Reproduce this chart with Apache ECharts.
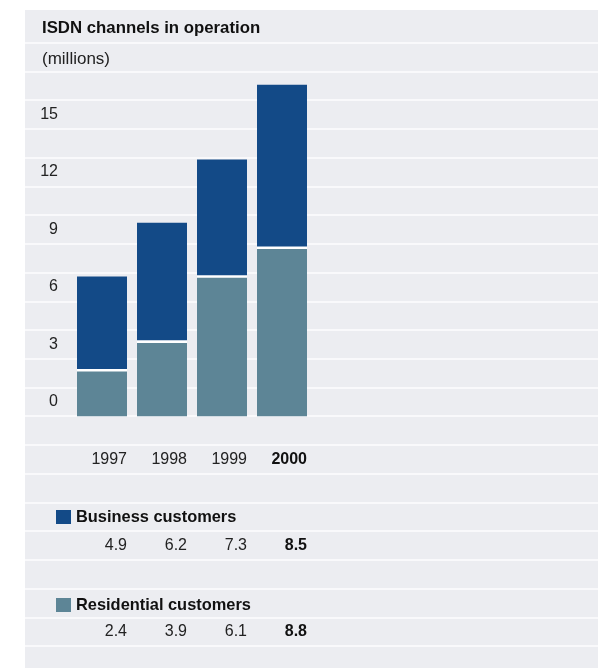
<!DOCTYPE html>
<html>
<head>
<meta charset="utf-8">
<script src="https://cdn.jsdelivr.net/npm/echarts@6/dist/echarts.min.js"></script>
<style>
html,body{margin:0;padding:0;background:#fff;}
#c{width:598px;height:668px;}
</style>
</head>
<body>
<div id="c"></div>
<script>
// ---- data ----
const years = ['1997', '1998', '1999', '2000'];
const barResidential = [2.4, 3.9, 7.3, 8.8];
const barBusiness = [4.9, 6.2, 6.1, 8.5];
// values printed in the table below the chart
const tableBusiness = [4.9, 6.2, 7.3, 8.5];
const tableResidential = [2.4, 3.9, 6.1, 8.8];
const yTicks = [0, 3, 6, 9, 12, 15];
const titleText = 'ISDN channels in operation';
const unitText = '(millions)';
const seriesNames = ['Business customers', 'Residential customers'];

// ---- style ----
const FONT = 'Liberation Sans';
const C_BUS = '#134A87';
const C_RES = '#5D8596';
const C_BG = '#ECEDF1';
const C_LINE = '#F9F9FB';
const C_TXT = '#222222';
const BAR_W = 50;
const ROW_H = 28.73;
const last = years.length - 1;

function richLabel(text, i) {
  return i === last ? '{b|' + text + '}' : '{a|' + text + '}';
}
const rich = {
  a: { width: BAR_W, align: 'right', fontSize: 16, fontFamily: FONT, color: C_TXT },
  b: { width: BAR_W, align: 'right', fontSize: 16, fontFamily: FONT, color: '#111', fontWeight: 'bold' }
};
function tableAxis(margin, fmt) {
  return {
    type: 'category', gridIndex: 0, data: years, position: 'bottom',
    axisLine: { show: false }, axisTick: { show: false }, splitLine: { show: false },
    axisLabel: {
      margin: margin, align: 'center', verticalAlign: 'middle',
      formatter: fmt, rich: rich
    }
  };
}

const chart = echarts.init(document.getElementById('c'), null, { renderer: 'canvas' });
chart.setOption({
  animation: false,
  textStyle: { fontFamily: FONT },
  graphic: [{
    type: 'rect', z: -100, silent: true,
    shape: { x: 25, y: 10, width: 573, height: 658 },
    style: { fill: C_BG }
  }],
  title: [
    { text: titleText, left: 42, top: 18.5, padding: 0, textStyle: { fontFamily: FONT, fontSize: 16.8, fontWeight: 'bold', color: '#111', lineHeight: 20 } },
    { text: unitText, left: 42, top: 49.5, padding: 0, textStyle: { fontFamily: FONT, fontSize: 17, fontWeight: 'normal', color: C_TXT, lineHeight: 20 } }
  ],
  legend: {
    orient: 'vertical', left: 56, top: 509, padding: 0,
    itemWidth: 15, itemHeight: 14, itemGap: 72,
    icon: 'rect',
    data: seriesNames,
    textStyle: { fontFamily: FONT, fontSize: 16.4, fontWeight: 'bold', color: '#111', lineHeight: 14 }
  },
  grid: [
    { left: 72, width: 240, top: 42.7, bottom: 251.7 },
    { left: 25, right: 0, top: 42.7, bottom: 22 }
  ],
  xAxis: [
    tableAxis(43.2, (v, i) => richLabel(v, i)),
    tableAxis(129.2, (v, i) => richLabel(tableBusiness[i].toFixed(1), i)),
    tableAxis(215.2, (v, i) => richLabel(tableResidential[i].toFixed(1), i)),
    { type: 'value', gridIndex: 1, show: false, min: 0, max: 1 }
  ],
  yAxis: [
    {
      type: 'value', gridIndex: 0, min: 0, max: 19.5,
      axisLine: { show: false }, axisTick: { show: false }, splitLine: { show: false },
      axisLabel: {
        customValues: yTicks, margin: 14, fontSize: 16, fontFamily: FONT, color: C_TXT,
        verticalAlign: 'bottom', lineHeight: ROW_H
      }
    },
    {
      type: 'value', gridIndex: 1, min: -12, max: 19.5, interval: 1.5,
      axisLine: { show: false }, axisTick: { show: false }, axisLabel: { show: false },
      splitLine: { show: true, lineStyle: { color: C_LINE, width: 2 } }
    }
  ],
  series: [
    {
      name: seriesNames[1], type: 'bar', stack: 'isdn', xAxisIndex: 0, yAxisIndex: 0,
      barWidth: BAR_W, data: barResidential, itemStyle: { color: C_RES }, z: 3
    },
    {
      name: seriesNames[0], type: 'bar', stack: 'isdn', xAxisIndex: 0, yAxisIndex: 0,
      barWidth: BAR_W, data: barBusiness, itemStyle: { color: C_BUS }, z: 3
    },
    {
      type: 'custom', xAxisIndex: 0, yAxisIndex: 0, z: 4, silent: true,
      data: barResidential.map((v, i) => [i, v]),
      renderItem: function (params, api) {
        const p = api.coord([api.value(0), api.value(1)]);
        return {
          type: 'rect',
          shape: { x: p[0] - BAR_W / 2, y: p[1] - 1.3, width: BAR_W, height: 2.6 },
          style: { fill: '#ffffff' }
        };
      }
    }
  ]
});
</script>
</body>
</html>
